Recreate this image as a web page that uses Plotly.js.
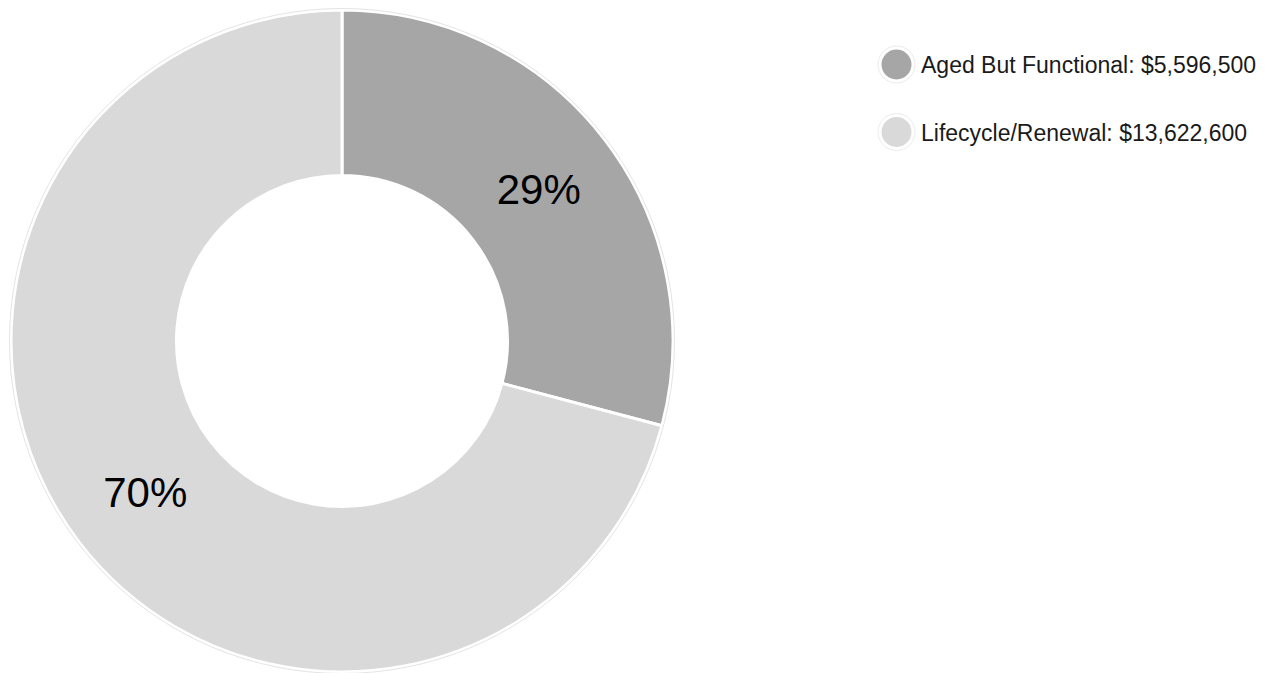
<!DOCTYPE html>
<html>
<head>
<meta charset="utf-8">
<script src="https://cdn.plot.ly/plotly-3.0.1.min.js"></script>
<style>html,body{margin:0;padding:0;background:#fff;}#chart{width:1277px;height:673px;}</style>
</head>
<body>
<div id="chart"></div>
<script>
const categories = ["Aged But Functional", "Lifecycle/Renewal"];
const values = [5596500, 13622600];
const colors = ["#a6a6a6", "#d9d9d9"];

const total = values.reduce((a, b) => a + b, 0);
const pctText = values.map(v => Math.floor(v / total * 100) + "%");
const legendText = categories.map((c, i) => c + ": $" + values[i].toLocaleString("en-US"));

const W = 1277, H = 673;
const px = x => x / W, py = y => 1 - y / H;

const trace = {
  type: "pie",
  labels: categories,
  values: values,
  text: pctText,
  textinfo: "text",
  textposition: "inside",
  insidetextorientation: "horizontal",
  sort: false,
  direction: "clockwise",
  rotation: 0,
  hole: 0.5,
  marker: {colors: colors, line: {color: "#ffffff", width: 3}},
  textfont: {family: "Liberation Sans, Arial, sans-serif", size: 42, color: "#000000"},
  domain: {x: [px(11), px(673)], y: [py(672), py(10)]},
  showlegend: false,
  hoverinfo: "label+value+percent"
};

const shapes = [
  {type: "circle", xref: "paper", yref: "paper", layer: "above",
   x0: px(342 - 332.5), x1: px(342 + 332.5), y0: py(341 + 332.5), y1: py(341 - 332.5),
   line: {color: "#e4e4e4", width: 1}}
];
const annotations = [];
const legX = 896.5, legY0 = 64.5, legDy = 67.5;
categories.forEach((c, i) => {
  const cy = legY0 + i * legDy;
  shapes.push({type: "circle", xref: "paper", yref: "paper", layer: "above",
    x0: px(legX - 18.5), x1: px(legX + 18.5), y0: py(cy + 18.5), y1: py(cy - 18.5),
    fillcolor: "#ffffff", line: {color: "#ececec", width: 1}});
  shapes.push({type: "circle", xref: "paper", yref: "paper", layer: "above",
    x0: px(legX - 15), x1: px(legX + 15), y0: py(cy + 15), y1: py(cy - 15),
    fillcolor: colors[i], line: {width: 0}});
  annotations.push({xref: "paper", yref: "paper", x: px(919), y: py(cy + 1),
    xanchor: "left", yanchor: "middle", showarrow: false, text: legendText[i],
    font: {family: "Liberation Sans, Arial, sans-serif", size: 23, color: "#1a1a1a"}});
});

const layout = {
  width: W, height: H,
  margin: {l: 0, r: 0, t: 0, b: 0},
  paper_bgcolor: "#ffffff",
  showlegend: false,
  shapes: shapes,
  annotations: annotations
};

Plotly.newPlot("chart", [trace], layout, {displayModeBar: false, staticPlot: true});
</script>
</body>
</html>
